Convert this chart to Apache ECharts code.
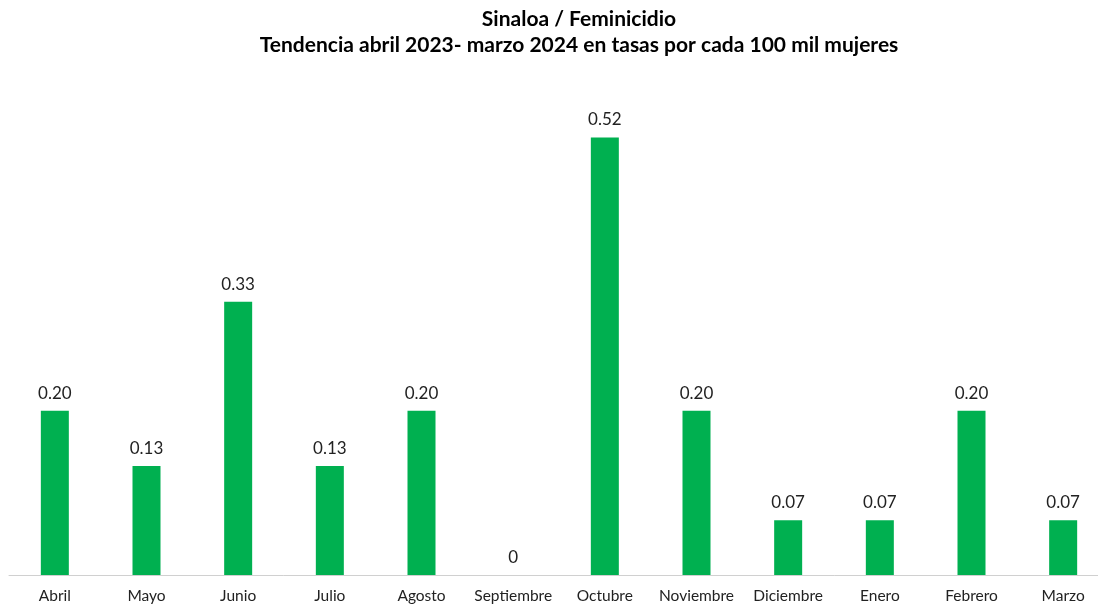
<!DOCTYPE html>
<html>
<head>
<meta charset="utf-8">
<script src="https://cdn.jsdelivr.net/npm/echarts@6/dist/echarts.min.js"></script>
<style>
  html, body { margin: 0; padding: 0; background: #fff; overflow: hidden; }
  #chart { width: 1110px; height: 605px; }
</style>
</head>
<body>
<div id="chart"></div>
<script>
// tasas por cada 100 mil mujeres, abril 2023 - marzo 2024
var months = ["Abril", "Mayo", "Junio", "Julio", "Agosto", "Septiembre", "Octubre",
  "Noviembre", "Diciembre", "Enero", "Febrero", "Marzo"];
var rates = [0.196, 0.130, 0.326, 0.130, 0.196, 0, 0.522, 0.196, 0.0652, 0.0652, 0.196, 0.0652];

var font = "Lato, 'Open Sans', sans-serif";
var chart = echarts.init(document.getElementById("chart"));

chart.setOption({
  animation: false,
  title: {
    text: "Sinaloa / Feminicidio\nTendencia abril 2023- marzo 2024 en tasas por cada 100 mil mujeres",
    left: 574,
    textAlign: "center",
    top: 1,
    textStyle: { fontFamily: font, fontSize: 21, fontWeight: "bold", color: "#000", lineHeight: 26 }
  },
  // plot runs a little past the right edge of the window, like the original
  grid: { left: 9, top: 72, right: 1, bottom: 30, containLabel: false },
  xAxis: {
    type: "category",
    data: months,
    axisLine: { lineStyle: { color: "#d0d0d0", width: 1 } },
    axisTick: { show: false },
    axisLabel: { interval: 0, fontFamily: font, fontSize: 15.5, color: "#222", margin: 13 }
  },
  yAxis: {
    type: "value",
    min: 0,
    max: 0.6,
    show: false,
    splitLine: { show: false }
  },
  series: [{
    type: "bar",
    data: rates,
    barWidth: 28,
    itemStyle: { color: "#00b050" },
    label: {
      show: true,
      position: "top",
      distance: 9,
      fontFamily: font,
      fontSize: 17,
      color: "#222",
      formatter: function (p) {
        return p.value === 0 ? "0" : p.value.toFixed(2);
      }
    }
  }]
});
</script>
</body>
</html>
